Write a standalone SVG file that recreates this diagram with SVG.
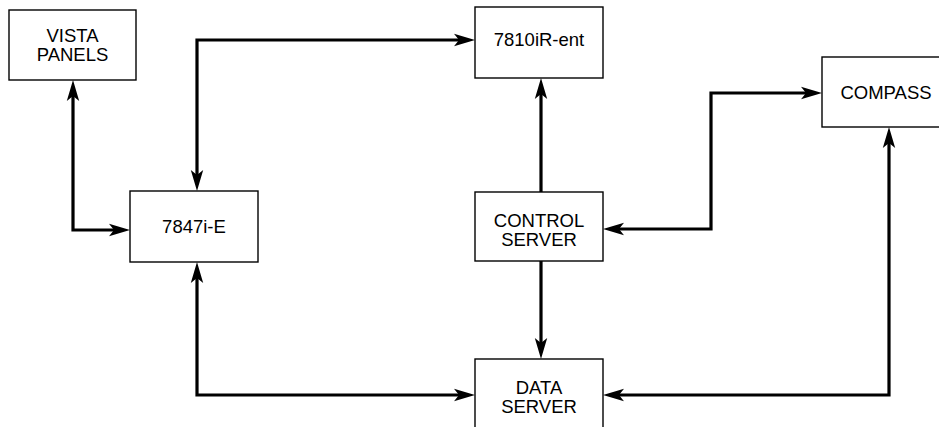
<svg xmlns="http://www.w3.org/2000/svg" width="939" height="427" viewBox="0 0 939 427">
  <defs>
    <style>
      .box { fill: #ffffff; stroke: #000000; stroke-width: 1.4; }
      .lbl { font-family: "Liberation Sans", Arial, Helvetica, sans-serif; font-size: 18.5px; fill: #000000; text-anchor: middle; }
      .conn { fill: none; stroke: #000000; stroke-width: 3.2; stroke-linejoin: miter; stroke-linecap: butt; }
    </style>
    <marker id="arr" markerUnits="userSpaceOnUse" viewBox="-12 -7 24 14" refX="0" refY="0" markerWidth="24" markerHeight="14" orient="auto-start-reverse" overflow="visible">
      <path d="M10,0 L-11,-6.2 L-6,0 L-11,6.2 Z" fill="#000000"/>
    </marker>
  </defs>
  <rect width="939" height="427" fill="#ffffff"/>

  <g id="connectors">
    <path class="conn" d="M73,90 V230 H120" marker-start="url(#arr)" marker-end="url(#arr)"/>
    <path class="conn" d="M197,181 V40 H465" marker-start="url(#arr)" marker-end="url(#arr)"/>
    <path class="conn" d="M541,192 V88" marker-end="url(#arr)"/>
    <path class="conn" d="M541,261 V349" marker-end="url(#arr)"/>
    <path class="conn" d="M613,229 H711 V93 H812" marker-start="url(#arr)" marker-end="url(#arr)"/>
    <path class="conn" d="M197,272 V395 H465" marker-start="url(#arr)" marker-end="url(#arr)"/>
    <path class="conn" d="M613,395 H889 V137" marker-start="url(#arr)" marker-end="url(#arr)"/>
  </g>

  <g id="vista-panels">
    <rect class="box" x="9" y="10" width="127" height="70"/>
    <text class="lbl" x="72.5" y="42">VISTA</text>
    <text class="lbl" x="72.5" y="60.5">PANELS</text>
  </g>

  <g id="n7810">
    <rect class="box" x="475" y="7" width="128" height="71"/>
    <text class="lbl" x="539" y="46">7810iR-ent</text>
  </g>

  <g id="n7847">
    <rect class="box" x="130" y="191" width="128" height="71"/>
    <text class="lbl" x="194" y="233">7847i-E</text>
  </g>

  <g id="control-server">
    <rect class="box" x="475" y="192" width="128" height="69"/>
    <text class="lbl" x="539" y="227">CONTROL</text>
    <text class="lbl" x="539" y="245.5">SERVER</text>
  </g>

  <g id="compass">
    <rect class="box" x="822" y="57" width="128" height="70"/>
    <text class="lbl" x="886" y="99">COMPASS</text>
  </g>

  <g id="data-server">
    <rect class="box" x="475" y="359" width="128" height="72"/>
    <text class="lbl" x="539" y="393.5">DATA</text>
    <text class="lbl" x="539" y="412.5">SERVER</text>
  </g>
</svg>
